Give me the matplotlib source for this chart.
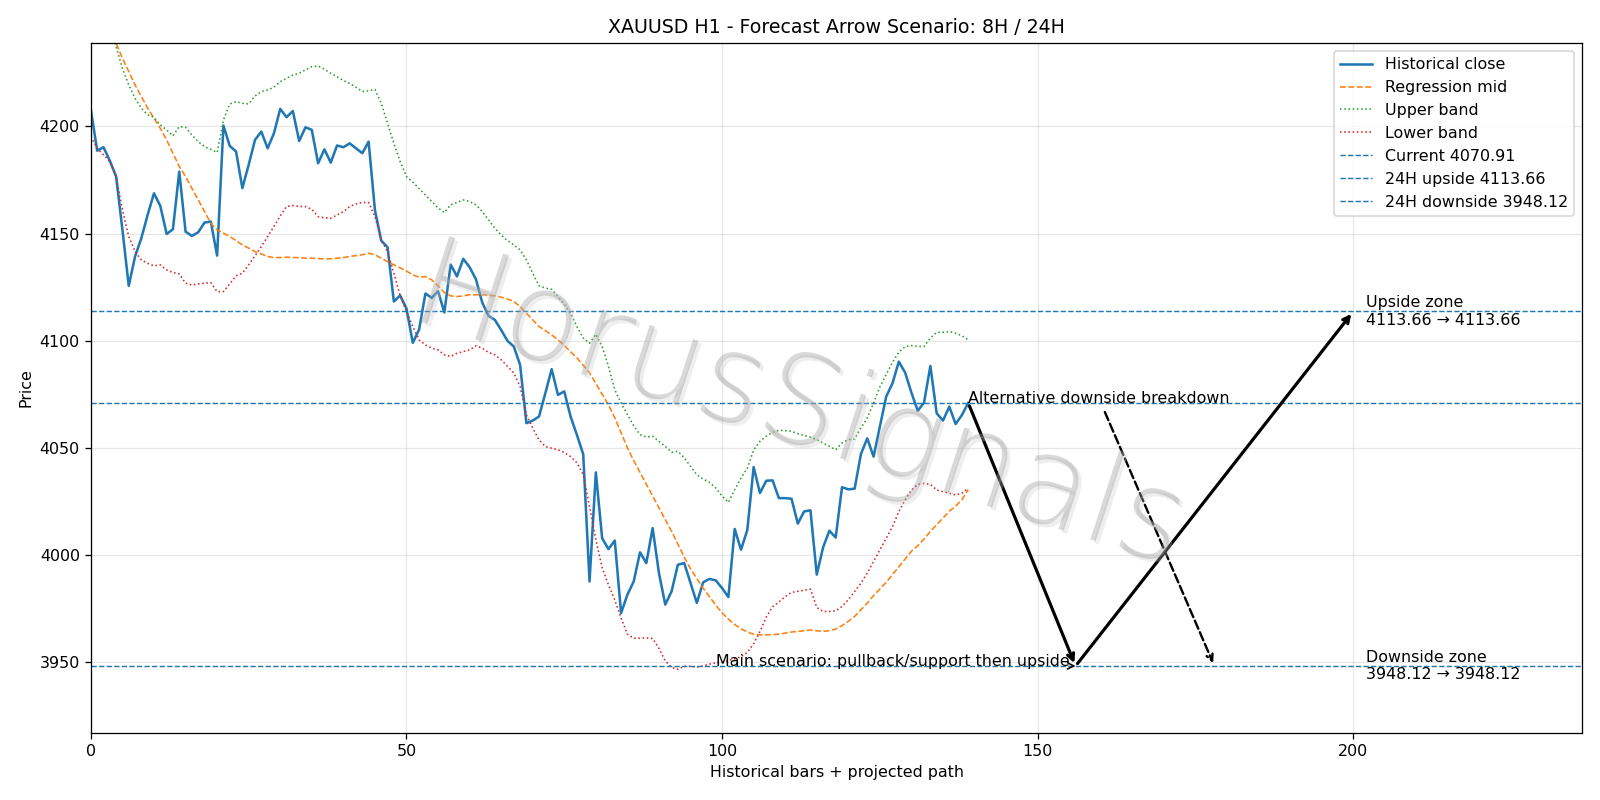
import numpy as np
import matplotlib
matplotlib.use("Agg")
import matplotlib.pyplot as plt
import matplotlib.patheffects as pe

# historical closes, bar index 0..139
close = [
    4207.7, 4188.7, 4190.3, 4184.0, 4176.6, 4151.7, 4125.6, 4139.3, 4147.9, 4158.8,
    4168.8, 4162.9, 4149.8, 4152.0, 4178.9, 4150.9, 4148.9, 4150.6, 4155.1, 4155.6,
    4139.7, 4200.4, 4190.9, 4188.3, 4171.2, 4182.1, 4193.7, 4197.6, 4189.8, 4196.8,
    4208.2, 4204.3, 4207.2, 4193.2, 4199.6, 4198.4, 4182.8, 4189.3, 4183.1, 4191.1,
    4190.3, 4192.1, 4189.8, 4187.5, 4192.9, 4161.0, 4146.7, 4143.6, 4118.3, 4121.1,
    4115.0, 4099.0, 4105.2, 4122.0, 4120.0, 4123.1, 4113.2, 4135.5, 4130.0, 4138.2,
    4134.3, 4128.7, 4117.8, 4111.6, 4109.7, 4105.0, 4099.9, 4097.3, 4088.7, 4061.5,
    4062.7, 4064.6, 4075.5, 4086.7, 4074.7, 4076.3, 4064.6, 4056.0, 4047.0, 3987.6,
    4038.5, 4007.8, 4002.7, 4006.7, 3972.8, 3981.4, 3987.6, 4001.2, 3996.2, 4012.5,
    3991.5, 3976.8, 3983.0, 3995.4, 3996.2, 3986.9, 3977.6, 3987.2, 3988.8, 3988.1,
    3984.5, 3980.3, 4012.1, 4002.4, 4011.7, 4041.0, 4028.9, 4034.6, 4034.8, 4026.5,
    4026.5, 4026.2, 4014.6, 4020.3, 4020.8, 3990.8, 4003.5, 4011.3, 4008.1, 4031.6,
    4030.6, 4030.9, 4047.1, 4054.4, 4045.9, 4059.9, 4073.9, 4080.1, 4090.2, 4085.1,
    4075.7, 4067.3, 4071.1, 4088.2, 4066.1, 4062.7, 4069.2, 4061.1, 4065.3, 4070.91,
]

mid = [
    4262.0, 4256.0, 4250.0, 4244.5, 4238.8, 4231.8, 4225.6, 4219.4, 4213.9, 4208.5,
    4203.8, 4199.1, 4193.7, 4187.5, 4181.3, 4176.6, 4171.2, 4165.7, 4160.3, 4154.8,
    4151.7, 4150.2, 4148.6, 4146.7, 4144.7, 4143.2, 4141.6, 4140.5, 4139.3, 4138.8,
    4138.8, 4139.0, 4138.8, 4138.8, 4138.5, 4138.5, 4138.3, 4138.2, 4138.2, 4138.5,
    4138.8, 4139.3, 4139.7, 4140.1, 4140.8, 4140.1, 4138.5, 4136.9, 4135.4, 4134.0,
    4132.5, 4130.7, 4129.6, 4129.9, 4128.4, 4125.6, 4122.5, 4120.9, 4120.6, 4120.9,
    4121.4, 4121.4, 4121.4, 4121.2, 4120.9, 4120.3, 4119.4, 4118.3, 4115.9, 4112.8,
    4109.7, 4106.6, 4104.7, 4102.7, 4100.4, 4097.8, 4094.8, 4092.0, 4088.5, 4085.0,
    4080.0, 4075.0, 4070.0, 4064.0, 4057.0, 4050.0, 4044.0, 4038.5, 4033.0, 4027.5,
    4022.0, 4016.5, 4011.0, 4005.0, 3999.0, 3993.5, 3989.0, 3984.5, 3980.5, 3976.5,
    3973.0, 3970.0, 3967.5, 3965.5, 3964.0, 3963.0, 3962.7, 3962.7, 3962.8, 3963.0,
    3963.5, 3964.0, 3964.3, 3964.6, 3965.0, 3964.6, 3964.3, 3964.6, 3965.4, 3967.0,
    3969.0, 3971.3, 3974.4, 3977.5, 3981.0, 3984.1, 3987.2, 3990.8, 3994.4, 3998.1,
    4001.7, 4004.3, 4007.4, 4011.0, 4014.1, 4017.2, 4020.4, 4022.7, 4025.8, 4030.5,
]

upper = [
    4275.0, 4265.0, 4255.0, 4246.0, 4237.2, 4227.1, 4219.4, 4213.1, 4208.5, 4205.4,
    4204.3, 4200.7, 4198.4, 4195.6, 4199.9, 4199.6, 4196.0, 4192.9, 4190.6, 4189.3,
    4187.8, 4203.0, 4210.5, 4211.6, 4210.8, 4210.5, 4214.2, 4216.3, 4217.0, 4218.3,
    4220.9, 4222.5, 4224.0, 4224.8, 4226.4, 4227.9, 4228.2, 4226.7, 4224.8, 4223.2,
    4221.4, 4220.1, 4218.3, 4216.3, 4216.6, 4217.3, 4210.8, 4201.5, 4192.1, 4183.6,
    4176.6, 4174.0, 4171.0, 4168.0, 4165.0, 4162.0, 4159.8, 4163.4, 4164.5, 4165.7,
    4165.0, 4163.4, 4160.3, 4156.4, 4152.5, 4149.4, 4146.7, 4144.7, 4142.4, 4137.7,
    4131.5, 4125.6, 4124.5, 4124.0, 4120.6, 4117.0, 4112.8, 4106.6, 4101.2, 4098.8,
    4103.0, 4097.3, 4088.0, 4077.1, 4070.9, 4065.5, 4060.3, 4056.1, 4055.0, 4055.4,
    4053.0, 4050.7, 4047.9, 4048.4, 4045.3, 4041.4, 4037.4, 4035.4, 4033.9, 4031.2,
    4027.5, 4024.5, 4030.4, 4035.9, 4040.5, 4049.0, 4053.0, 4055.4, 4057.2, 4058.2,
    4058.0, 4057.7, 4056.6, 4055.7, 4055.0, 4053.8, 4052.2, 4050.7, 4049.1, 4052.2,
    4053.8, 4054.1, 4059.3, 4063.9, 4070.9, 4078.4, 4084.2, 4089.9, 4094.6, 4097.3,
    4097.7, 4097.3, 4097.3, 4101.2, 4103.9, 4103.9, 4104.3, 4103.5, 4102.3, 4100.4,
]

lower = [
    4195.3, 4189.8, 4186.7, 4183.6, 4176.6, 4161.0, 4148.6, 4141.6, 4137.7, 4136.1,
    4134.9, 4135.4, 4133.0, 4131.8, 4131.2, 4126.8, 4126.0, 4126.5, 4126.8, 4127.1,
    4122.9, 4122.9, 4126.5, 4130.3, 4131.5, 4135.4, 4139.6, 4143.9, 4148.6, 4153.3,
    4158.2, 4162.6, 4163.1, 4162.6, 4162.6, 4161.3, 4157.9, 4157.4, 4157.1, 4158.7,
    4160.2, 4162.6, 4163.8, 4164.5, 4164.5, 4157.9, 4147.0, 4141.6, 4131.5, 4121.0,
    4113.5, 4106.6, 4100.4, 4098.0, 4096.5, 4095.7, 4093.4, 4092.6, 4094.1, 4094.9,
    4095.7, 4097.6, 4096.5, 4094.5, 4093.4, 4091.1, 4088.0, 4084.9, 4078.6, 4065.4,
    4059.2, 4053.7, 4050.6, 4049.8, 4049.1, 4047.8, 4045.9, 4043.0, 4037.5, 4022.6,
    4007.1, 3994.0, 3986.0, 3979.0, 3970.5, 3963.0, 3961.1, 3961.1, 3961.3, 3961.0,
    3956.4, 3950.5, 3947.5, 3946.6, 3948.0, 3948.0, 3947.6, 3948.2, 3949.0, 3949.6,
    3950.0, 3950.7, 3951.5, 3952.5, 3954.5, 3958.5, 3964.2, 3971.0, 3975.8, 3978.0,
    3980.5, 3982.5, 3983.0, 3983.5, 3984.0, 3975.5, 3973.6, 3973.6, 3973.9, 3975.9,
    3979.1, 3982.9, 3986.8, 3991.5, 3996.9, 4002.3, 4007.7, 4013.2, 4020.2, 4025.6,
    4030.3, 4032.9, 4033.4, 4032.9, 4030.3, 4029.5, 4028.8, 4028.0, 4028.8, 4031.1,
]

current = 4070.91
up_24h = 4113.66
down_24h = 3948.12

# projected path (bar index)
i_now = 139
i_support = 156
i_target = 200
alt_end = (178, 3948.12)

x = np.arange(len(close))

fig, ax = plt.subplots(figsize=(14, 7), dpi=1600 / 14)
fig.subplots_adjust(left=0.0568, right=0.989, top=0.9464, bottom=0.0841)

ax.plot(x, close, color="C0", lw=1.6, label="Historical close")
ax.plot(x, mid, color="C1", ls="--", lw=1.0, label="Regression mid")
ax.plot(x, upper, color="C2", ls=":", lw=1.0, label="Upper band")
ax.plot(x, lower, color="C3", ls=":", lw=1.0, label="Lower band")

ax.axhline(current, color="C0", ls="--", lw=0.9, label=f"Current {current:.2f}")
ax.axhline(up_24h, color="C0", ls="--", lw=0.9, label=f"24H upside {up_24h:.2f}")
ax.axhline(down_24h, color="C0", ls="--", lw=0.9, label=f"24H downside {down_24h:.2f}")

# main scenario arrows
ax.annotate("", xy=(i_support, down_24h), xytext=(i_now, current),
            arrowprops=dict(arrowstyle="->", lw=2.0, color="black"))
ax.annotate("", xy=(i_target, up_24h), xytext=(i_support, down_24h),
            arrowprops=dict(arrowstyle="->", lw=2.0, color="black"))
ax.annotate("Main scenario: pullback/support then upside",
            xy=(i_support, down_24h), xytext=(99, down_24h),
            arrowprops=dict(arrowstyle="->", lw=1, color="black"))
ax.annotate("Alternative downside breakdown", xy=alt_end, xytext=(i_now, current),
            arrowprops=dict(arrowstyle="->", lw=1.5, ls="--", color="black"))

ax.text(202, up_24h, f"Upside zone\n{up_24h:.2f} \u2192 {up_24h:.2f}", va="center")
ax.text(202, down_24h, f"Downside zone\n{down_24h:.2f} \u2192 {down_24h:.2f}", va="center")

# watermark
ax.text(0.475, 0.47, "HorusSignals", transform=ax.transAxes, fontsize=78,
        family="DejaVu Sans", fontweight=200,
        rotation=-18, color="#a0a0a0", alpha=0.4, ha="center", va="center",
        path_effects=[pe.withSimplePatchShadow(offset=(2, -2), shadow_rgbFace="#c8c8c8", alpha=0.3)])

ax.set_xlim(0, 236.3)
ax.set_ylim(3917, 4239)
ax.grid(True, alpha=0.3)
ax.set_title("XAUUSD H1 - Forecast Arrow Scenario: 8H / 24H")
ax.set_xlabel("Historical bars + projected path")
ax.set_ylabel("Price")
ax.legend(loc="upper right")

fig.savefig("out.png")
